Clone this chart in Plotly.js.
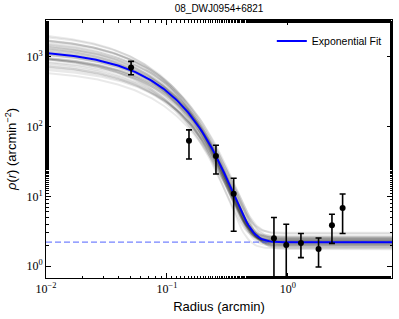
<!DOCTYPE html>
<html><head><meta charset="utf-8">
<script src="https://cdn.plot.ly/plotly-3.0.1.min.js"></script>
<style>html,body{margin:0;padding:0;background:#fff}#chart{width:399px;height:319px}</style>
</head><body><div id="chart"></div>
<script>
// Observed profile
var radius = [0.0505, 0.152, 0.254, 0.356, 0.766, 0.968, 1.28, 1.79, 2.31, 2.83];
var density = [708, 62.8, 38, 10.9, 2.5, 2.0, 2.14, 1.76, 3.85, 6.83];
var errHigh = [865, 90, 54, 18.2, 4.97, 3.98, 2.93, 2.53, 5.55, 10.8];
var errLow = [556, 34.4, 20.9, 3.16, 0.05, 0.05, 1.32, 0.97, 2.12, 2.93];

// Best-fit exponential parameters (central density, scale radius, background)
var fitA = 1313, fitRs = 0.0705, fitBg = 2.2;

// Posterior sample parameters (grey curves)
var sampA = [1789,1238,1113,1692,958,1989,837,1286,1548,731,1541,1104,1582,1093,790,1751,1251,890,2047,1204,1875,668,1638,1424,1105,1067,1049,2010,1063,1370,946,1501,840,2256,1388,2384];
var sampRs = [0.064,0.069,0.074,0.062,0.080,0.066,0.072,0.076,0.060,0.083,0.068,0.070,0.074,0.064,0.078,0.067,0.071,0.073,0.061,0.075,0.069,0.077,0.065,0.070,0.073,0.068,0.080,0.063,0.072,0.066,0.071,0.067,0.075,0.062,0.069,0.058];
var sampBg = [2.2,2.5,2.0,2.7,1.9,2.3,2.1,2.9,1.8,2.4,2.2,2.0,2.6,2.3,1.9,2.4,2.1,2.2,2.6,1.85,3.0,2.05,2.3,2.5,2.15,2.25,1.75,2.45,2.0,2.35,2.1,2.2,2.55,1.95,2.3,2.4];

var xTickVals = [0.01, 0.1, 1];
var xTickText = ['10<sup>−2</sup>', '10<sup>−1</sup>', '10<sup>0</sup>'];
var yTickVals = [1, 10, 100, 1000];
var yTickText = ['10<sup>0</sup>', '10<sup>1</sup>', '10<sup>2</sup>', '10<sup>3</sup>'];

var logMin = -2, logMax = 0.86;
var grid = [];
for (var i = 0; i <= 200; i++) grid.push(Math.pow(10, logMin + (logMax - logMin) * i / 200));
function model(A, rs, bg) { return grid.map(function (r) { return A * Math.exp(-r / rs) + bg; }); }

var traces = [];
for (var k = 0; k < sampA.length; k++) {
  traces.push({x: grid, y: model(sampA[k], sampRs[k], sampBg[k]), mode: 'lines',
    line: {color: 'rgba(0,0,0,0.085)', width: 2}, showlegend: false, hoverinfo: 'skip'});
}
traces.push({x: [Math.pow(10, logMin), Math.pow(10, logMax)], y: [fitBg, fitBg], mode: 'lines',
  line: {color: 'rgba(70,90,255,0.75)', width: 1.3, dash: '6px,3px'}, showlegend: false});
traces.push({x: grid, y: model(fitA, fitRs, fitBg), mode: 'lines', name: 'Exponential Fit',
  line: {color: '#0000ff', width: 2}});
traces.push({x: radius, y: density, mode: 'markers', showlegend: false,
  marker: {color: 'black', size: 6},
  error_y: {type: 'data', symmetric: false,
    array: errHigh.map(function (h, i) { return h - density[i]; }),
    arrayminus: errLow.map(function (l, i) { return density[i] - l; }),
    color: 'black', thickness: 1.6, width: 3}});

var axisCommon = {type: 'log', showline: true, linecolor: 'black', linewidth: 1, mirror: 'allticks',
  ticks: 'inside', ticklen: 5, tickcolor: 'black', showgrid: false, zeroline: false,
  minor: {ticks: 'inside', ticklen: 2.5, tickcolor: 'black', showgrid: false},
  tickfont: {family: 'Liberation Serif, DejaVu Serif, serif', size: 12, color: 'black'}};

var layout = {
  width: 399, height: 319,
  margin: {l: 46, r: 7, t: 20, b: 41},
  paper_bgcolor: 'white', plot_bgcolor: 'white',
  title: {text: '08_DWJ0954+6821', x: 0.549, xanchor: 'center', y: 0.985, yanchor: 'top',
    font: {family: 'Liberation Sans, Arial, sans-serif', size: 10, color: 'black'}},
  xaxis: Object.assign({}, axisCommon, {range: [logMin, logMax], tickvals: xTickVals, ticktext: xTickText,
    title: {text: 'Radius (arcmin)', standoff: 6, font: {family: 'Liberation Sans, Arial, sans-serif', size: 13, color: 'black'}}}),
  yaxis: Object.assign({}, axisCommon, {range: [-0.171, 3.53], tickvals: yTickVals, ticktext: yTickText,
    title: {text: '<i>ρ</i>(<i>r</i>) (arcmin<sup>−2</sup>)', standoff: 6, font: {family: 'Liberation Sans, Arial, sans-serif', size: 13, color: 'black'}}}),
  legend: {x: 0.985, xanchor: 'right', y: 0.975, yanchor: 'top', bgcolor: 'rgba(0,0,0,0)',
    font: {family: 'Liberation Sans, Arial, sans-serif', size: 10.5, color: 'black'}},
  showlegend: true
};

Plotly.newPlot('chart', traces, layout, {staticPlot: true, displayModeBar: false});
</script></body></html>
